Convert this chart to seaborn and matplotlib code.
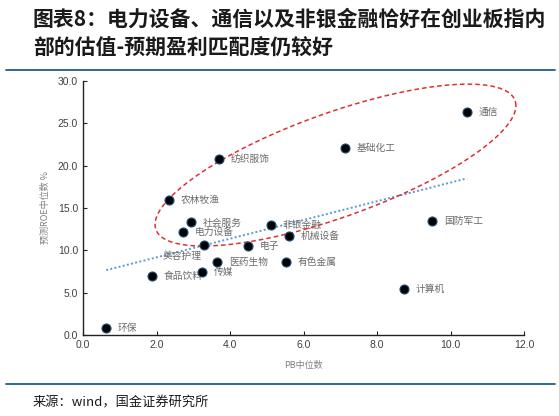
import numpy as np
import pandas as pd
import seaborn as sns
import matplotlib.pyplot as plt
from matplotlib.lines import Line2D

industries = ['通信', '基础化工', '纺织服饰', '农林牧渔', '社会服务', '电力设备', '非银金融',
              '机械设备', '国防军工', '美容护理', '电子', '医药生物', '有色金属', '传媒',
              '食品饮料', '计算机', '环保']
pb_median = [10.45, 7.13, 3.70, 2.34, 2.94, 2.72, 5.12, 5.60, 9.50, 3.29, 4.49, 3.65, 5.52,
             3.24, 1.88, 8.73, 0.63]
roe_median = [26.3, 22.1, 20.8, 15.9, 13.3, 12.2, 13.0, 11.7, 13.5, 10.6, 10.5, 8.6, 8.6,
              7.4, 7.0, 5.4, 0.8]

df = pd.DataFrame({'industry': industries, 'pb': pb_median, 'roe': roe_median})

sns.set_theme(style='white')
plt.rcParams['font.family'] = ['Noto Sans CJK SC', 'DejaVu Sans']

fig = plt.figure(figsize=(5.59, 4.16), dpi=100)
ax = fig.add_axes([0.1485, 0.1947, 0.7889, 0.6106])

# trend line (linear fit over the points)
sns.regplot(data=df, x='pb', y='roe', ax=ax, scatter=False, ci=None, truncate=True,
            line_kws={'color': '#5b9bd5', 'lw': 1.4, 'ls': (0, (1, 1.2))})

sns.scatterplot(data=df, x='pb', y='roe', ax=ax, color='black', edgecolor='#1f4e79',
                linewidth=0.8, s=42, zorder=5)

for name, x, y in zip(industries, pb_median, roe_median):
    if name == '美容护理':
        ax.annotate(name, (x, y), xytext=(-2, -8), textcoords='offset points',
                    ha='right', va='center', fontsize=7, color='#6b6b6b')
    else:
        ax.annotate(name, (x, y), xytext=(8.5, 0), textcoords='offset points',
                    ha='left', va='center', fontsize=7, color='#6b6b6b')

# highlight ellipse
t = np.linspace(0, 2 * np.pi, 300)
ex = 6.87 + 4.91 * np.cos(t)
ey = 20.07 + 7.02 * np.cos(t) + 6.49 * np.sin(t)
ax.plot(ex, ey, color='#e03030', lw=1.1, ls=(0, (3, 2)), zorder=3)

ax.set_xlim(0, 12)
ax.set_ylim(0, 30)
ax.set_xticks(np.arange(0, 12.1, 2))
ax.set_yticks(np.arange(0, 30.1, 5))
ax.set_xticklabels([f'{v:.1f}' for v in np.arange(0, 12.1, 2)], family='Liberation Sans')
ax.set_yticklabels([f'{v:.1f}' for v in np.arange(0, 30.1, 5)], family='Liberation Sans')
ax.tick_params(axis='both', direction='in', length=3, width=0.8, colors='#222222',
               labelsize=7.5, labelcolor='#404040', bottom=True, left=True)
sns.despine(ax=ax)
for s in ['left', 'bottom']:
    ax.spines[s].set_color('#222222')
    ax.spines[s].set_linewidth(1.0)
ax.set_xlabel('PB中位数', fontsize=6.5, color='#808080', labelpad=8)
ax.set_ylabel('预测ROE中位数 %', fontsize=6.5, color='#808080', labelpad=6)

fig.text(0.059, 0.955, '图表8：电力设备、通信以及非银金融恰好在创业板指内', fontsize=15,
         fontweight='bold', fontstyle='italic', color='#1a1a1a', va='center')
fig.text(0.059, 0.883, '部的估值-预期盈利匹配度仍较好', fontsize=15,
         fontweight='bold', fontstyle='italic', color='#1a1a1a', va='center')
fig.add_artist(Line2D([0.01, 0.993], [0.831, 0.831], color='#1f5f8b', lw=1.3))
fig.add_artist(Line2D([0.01, 0.993], [0.077, 0.077], color='#1f5f8b', lw=1.3))
fig.text(0.059, 0.031, '来源：wind，国金证券研究所', fontsize=9.5, color='#1a1a1a', va='center')

fig.savefig('out.png', dpi=100)
